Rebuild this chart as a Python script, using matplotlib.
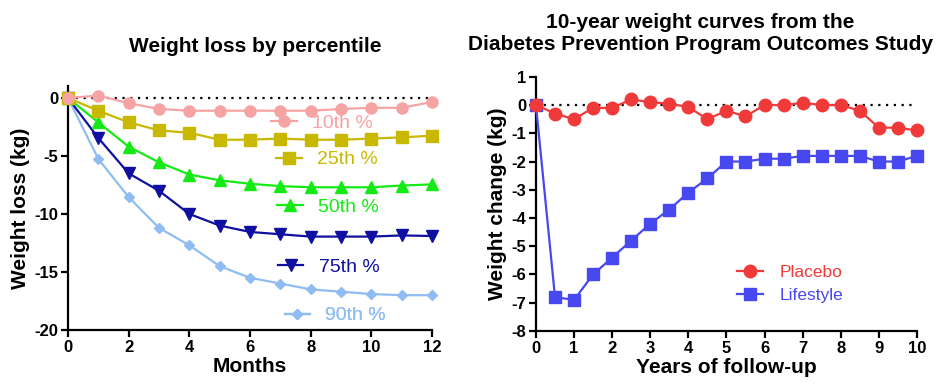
"""
Two-panel weight loss chart: percentile curves (left) and DPPOS 10-year curves (right).
"""
import matplotlib
matplotlib.use("Agg")
import matplotlib.pyplot as plt
from matplotlib.lines import Line2D

plt.rcParams["font.family"] = ["Liberation Sans", "DejaVu Sans"]
plt.rcParams["axes.unicode_minus"] = False

# ── data ─────────────────────────────────────────────────────────────────────

months = list(range(13))
p10 = [0, 0.2, -0.45, -0.95, -1.1, -1.1, -1.1, -1.1, -1.1, -0.95, -0.85, -0.85, -0.35]
p25 = [0, -1.1, -2.1, -2.8, -3.0, -3.6, -3.6, -3.5, -3.6, -3.6, -3.5, -3.4, -3.25]
p50 = [0, -2.1, -4.2, -5.55, -6.6, -7.1, -7.4, -7.6, -7.7, -7.7, -7.7, -7.55, -7.45]
p75 = [0, -3.45, -6.5, -8.0, -10.0, -11.0, -11.55, -11.75, -11.95, -11.95, -11.95, -11.85, -11.9]
p90 = [0, -5.25, -8.55, -11.2, -12.7, -14.5, -15.5, -16.0, -16.5, -16.7, -16.9, -17.0, -17.0]
pct_labels = ["10th %", "25th %", "50th %", "75th %", "90th %"]

years = [i * 0.5 for i in range(21)]
placebo = [0, -0.3, -0.5, -0.1, -0.1, 0.2, 0.1, 0.05, -0.07, -0.5, -0.2, -0.4,
           0, 0, 0.08, 0, 0, -0.2, -0.8, -0.8, -0.9]
lifestyle = [0, -6.8, -6.9, -6.0, -5.4, -4.8, -4.2, -3.7, -3.1, -2.6, -2.0, -2.0,
             -1.9, -1.9, -1.8, -1.8, -1.8, -1.8, -2.0, -2.0, -1.8]

# ── styles ───────────────────────────────────────────────────────────────────

pct_series = [p10, p25, p50, p75, p90]
pct_colors = ["#f5a3a3", "#c9b800", "#16ea16", "#1010a0", "#8fbdf2"]
pct_markers = ["o", "s", "^", "v", "D"]
pct_msize = [8, 8, 8, 8, 5.5]
# legend anchor (handle start x, centre y) in data coords
pct_leg_pos = [(6.70, -2.16), (6.87, -5.32), (6.90, -9.44), (6.92, -14.6), (7.14, -18.76)]

TICK_FS = 12
LABEL_FS = 15
TITLE_FS = 15

fig = plt.figure(figsize=(9.36, 3.88), dpi=100)
ax1 = fig.add_axes([0.0726, 0.1495, 0.389, 0.628])
ax2 = fig.add_axes([0.5726, 0.147, 0.407, 0.655])


def style_axes(ax):
    for side in ("top", "right"):
        ax.spines[side].set_visible(False)
    for side in ("left", "bottom"):
        ax.spines[side].set_linewidth(1.6)
    ax.tick_params(width=1.6, length=5, labelsize=TICK_FS, pad=2)
    for lbl in ax.get_xticklabels() + ax.get_yticklabels():
        lbl.set_fontweight("bold")
    ax.axhline(0, color="black", linestyle=(0, (1, 2.5)), linewidth=1.6, zorder=1)


# ── left: percentile curves ──────────────────────────────────────────────────

for i in reversed(range(5)):
    ax1.plot(months, pct_series[i], color=pct_colors[i], marker=pct_markers[i],
             markersize=pct_msize[i], linewidth=1.6, zorder=3 + (5 - i), clip_on=False)

ax1.set_xlim(0, 12)
ax1.set_ylim(-20, 1)
ax1.set_xticks(range(0, 13, 2))
ax1.set_yticks([0, -5, -10, -15, -20])
style_axes(ax1)
ax1.set_xlabel("Months", fontsize=LABEL_FS, fontweight="bold", labelpad=2)
ax1.set_ylabel("Weight loss (kg)", fontsize=LABEL_FS, fontweight="bold", labelpad=3)

for i in range(5):
    h = Line2D([], [], color=pct_colors[i], marker=pct_markers[i],
               markersize=pct_msize[i], linewidth=1.6)
    x, y = pct_leg_pos[i]
    leg = ax1.legend([h], [pct_labels[i]], loc="center left",
                     bbox_to_anchor=(x, y), bbox_transform=ax1.transData,
                     frameon=False, fontsize=14, borderpad=0, borderaxespad=0,
                     handlelength=1.3, handletextpad=0.8)
    for t in leg.get_texts():
        t.set_color(pct_colors[i])
    ax1.add_artist(leg)

# ── right: DPPOS curves ──────────────────────────────────────────────────────

ax2.plot(years, lifestyle, color="#4848f0", marker="s", markersize=8.5,
         linewidth=1.6, zorder=3, clip_on=False, label="Lifestyle")
ax2.plot(years, placebo, color="#f03a3a", marker="o", markersize=9,
         linewidth=1.6, zorder=4, clip_on=False, label="Placebo")

ax2.set_xlim(0, 10)
ax2.set_ylim(-8, 1)
ax2.set_xticks(range(0, 11))
ax2.set_yticks(range(1, -9, -1))
style_axes(ax2)
ax2.set_xlabel("Years of follow-up", fontsize=LABEL_FS, fontweight="bold", labelpad=2)
ax2.set_ylabel("Weight change (kg)", fontsize=LABEL_FS, fontweight="bold", labelpad=3)

handles, labels = ax2.get_legend_handles_labels()
leg2 = ax2.legend(handles[::-1], labels[::-1], loc="center left",
                  bbox_to_anchor=(5.27, -6.33), bbox_transform=ax2.transData,
                  frameon=False, fontsize=12.5, borderpad=0, borderaxespad=0,
                  handlelength=1.5, handletextpad=1.0, labelspacing=0.45)
for t, c in zip(leg2.get_texts(), ["#f03a3a", "#4848f0"]):
    t.set_color(c)

# ── titles ───────────────────────────────────────────────────────────────────

fig.text(255 / 936, 1 - 46 / 388, "Weight loss by percentile",
         ha="center", va="center", fontsize=TITLE_FS, fontweight="bold")
fig.text(700 / 936, 1 - 33.5 / 388,
         "10-year weight curves from the\nDiabetes Prevention Program Outcomes Study",
         ha="center", va="center", fontsize=TITLE_FS, fontweight="bold", linespacing=1.25)

plt.savefig("out.png", dpi=100)
plt.close()
print("Saved out.png")
